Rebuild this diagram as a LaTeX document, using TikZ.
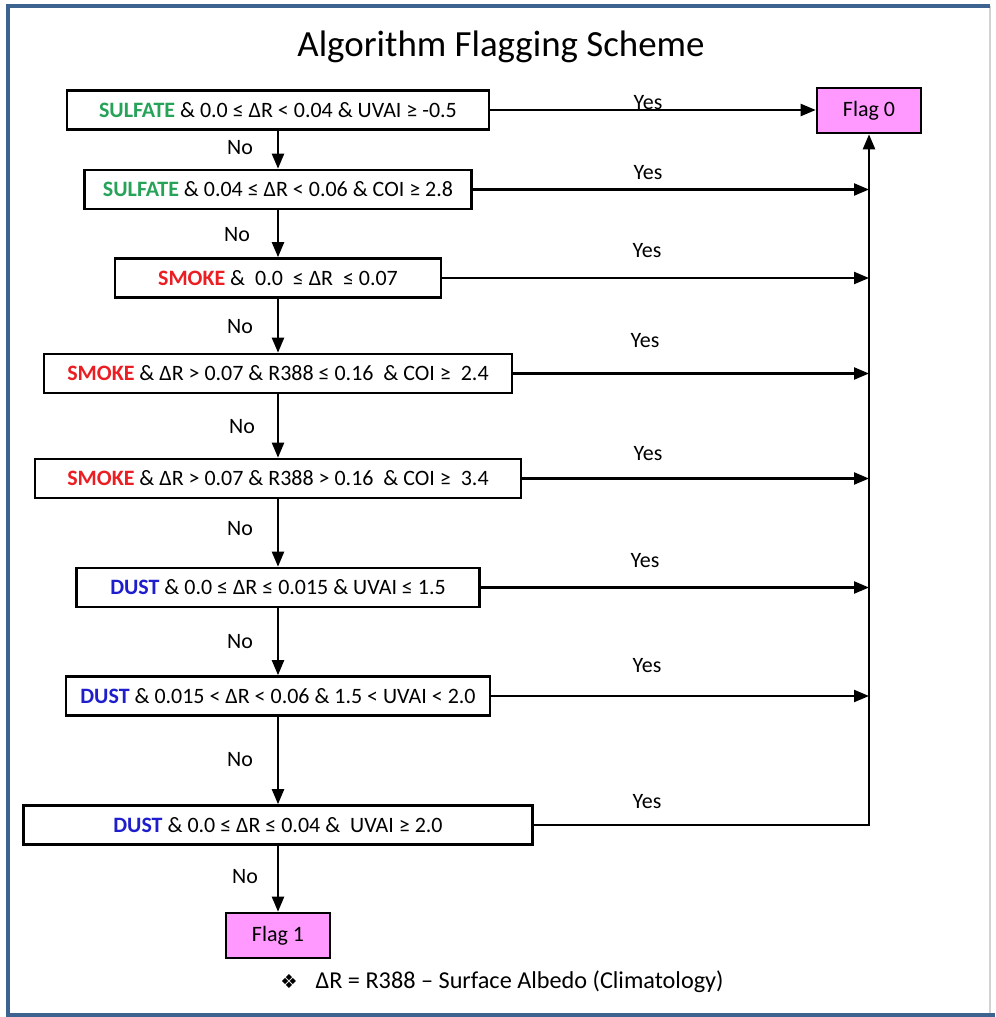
\documentclass[tikz,border=0pt]{standalone}
\usepackage{fontspec}
\setmainfont{Carlito}
\newfontfamily\symfont{DejaVu Sans}
\usetikzlibrary{arrows.meta, positioning}

\definecolor{marco}{RGB}{61,99,145}
\definecolor{sulfato}{RGB}{38,163,88}
\definecolor{humo}{RGB}{235,30,35}
\definecolor{polvo}{RGB}{30,30,205}
\definecolor{bandera}{RGB}{255,153,255}

\begin{document}
\begin{tikzpicture}[
    x=0.02cm, y=-0.02cm,
    % Definición global de estilos de nodos
    base/.style = {draw=black, line width=1.5pt, inner sep=0pt, align=center, font=\fontsize{12.5}{15}\selectfont},
    cond/.style = {base, rectangle, fill=white, minimum height=0.78cm},
    flag/.style = {base, rectangle, fill=bandera, minimum width=2.08cm, minimum height=0.9cm},
    etiqueta/.style = {inner sep=0pt, font=\fontsize{12.5}{15}\selectfont},
    flecha/.style = {line width=1.3pt, -{Triangle[length=0.3cm, width=0.24cm]}}
]
\useasboundingbox (0,0) rectangle (995,1017);

% ===============================
% 0. Marco y título
% ===============================
\draw [gray!35, line width=0.6pt] (990,6) -- (990,1015);
\draw [marco, line width=2.3pt] (990,6) -- (8,6) -- (8,1015) -- (995,1015);
\node (titulo) [anchor=base, font=\fontsize{21}{24}\selectfont] at (501,57) {Algorithm Flagging Scheme};

% ===============================
% 1. Nodos de condición
% ===============================
\node (c1) [cond, minimum width=8.44cm] at (278,110) {\textbf{\color{sulfato}SULFATE} \& 0.0 ≤ ΔR < 0.04 \& UVAI ≥ -0.5};
\node (c2) [cond, minimum width=7.74cm] at (278,189.5) {\textbf{\color{sulfato}SULFATE} \& 0.04 ≤ ΔR < 0.06 \& COI ≥ 2.8};
\node (c3) [cond, minimum width=6.52cm] at (278,278) {\textbf{\color{humo}SMOKE} \&\ \ 0.0\ \ ≤ ΔR\ \ ≤ 0.07};
\node (c4) [cond, minimum width=9.36cm] at (278,373.5) {\textbf{\color{humo}SMOKE} \& ΔR > 0.07 \& R388 ≤ 0.16\ \ \& COI ≥\ \ 2.4};
\node (c5) [cond, minimum width=9.72cm] at (278,478.5) {\textbf{\color{humo}SMOKE} \& ΔR > 0.07 \& R388 > 0.16\ \ \& COI ≥\ \ 3.4};
\node (c6) [cond, minimum width=8.06cm] at (278,587.5) {\textbf{\color{polvo}DUST} \& 0.0 ≤ ΔR ≤ 0.015 \& UVAI ≤ 1.5};
\node (c7) [cond, minimum width=8.48cm] at (278,696) {\textbf{\color{polvo}DUST} \& 0.015 < ΔR < 0.06 \& 1.5 < UVAI < 2.0};
\node (c8) [cond, minimum width=10.18cm] at (278,825) {\textbf{\color{polvo}DUST} \& 0.0 ≤ ΔR ≤ 0.04 \&\ \ UVAI ≥ 2.0};

% ===============================
% 2. Nodos de salida
% ===============================
\node (f0) [flag] at (869,110.5) {Flag 0};
\node (f1) [flag] at (278,935.5) {Flag 1};

% ===============================
% 3. Etiquetas
% ===============================
\node (y1) [etiqueta] at (648,103) {Yes};
\node (y2) [etiqueta] at (648,173) {Yes};
\node (y3) [etiqueta] at (647,251) {Yes};
\node (y4) [etiqueta] at (645,341) {Yes};
\node (y5) [etiqueta] at (648,454) {Yes};
\node (y6) [etiqueta] at (645,561) {Yes};
\node (y7) [etiqueta] at (647,666) {Yes};
\node (y8) [etiqueta] at (647,802) {Yes};

\node (n1) [etiqueta] at (240,148) {No};
\node (n2) [etiqueta] at (237,235) {No};
\node (n3) [etiqueta] at (240,327) {No};
\node (n4) [etiqueta] at (242,427) {No};
\node (n5) [etiqueta] at (240,529) {No};
\node (n6) [etiqueta] at (240,642) {No};
\node (n7) [etiqueta] at (240,760) {No};
\node (n8) [etiqueta] at (245,877) {No};

\node (nota) [anchor=west, inner sep=0pt, font=\fontsize{13.8}{16}\selectfont] at (280,982) {{\symfont\fontsize{11}{13}\selectfont ❖}\hspace{0.36cm}ΔR = R388 – Surface Albedo (Climatology)};

% ===============================
% 4. Trazado de Flechas
% ===============================
\draw [flecha] (c1) -- (c2);
\draw [flecha] (c2) -- (c3);
\draw [flecha] (c3) -- (c4);
\draw [flecha] (c4) -- (c5);
\draw [flecha] (c5) -- (c6);
\draw [flecha] (c6) -- (c7);
\draw [flecha] (c7) -- (c8);
\draw [flecha] (c8) -- (f1);

\draw [flecha] (c1.east) -- (c1.east -| f0.west);
\draw [flecha] (c2.east) -- (c2.east -| f0.south);
\draw [flecha] (c3.east) -- (c3.east -| f0.south);
\draw [flecha] (c4.east) -- (c4.east -| f0.south);
\draw [flecha] (c5.east) -- (c5.east -| f0.south);
\draw [flecha] (c6.east) -- (c6.east -| f0.south);
\draw [flecha] (c7.east) -- (c7.east -| f0.south);
\draw [flecha] (c8.east) -| (f0.south);

\end{tikzpicture}
\end{document}
